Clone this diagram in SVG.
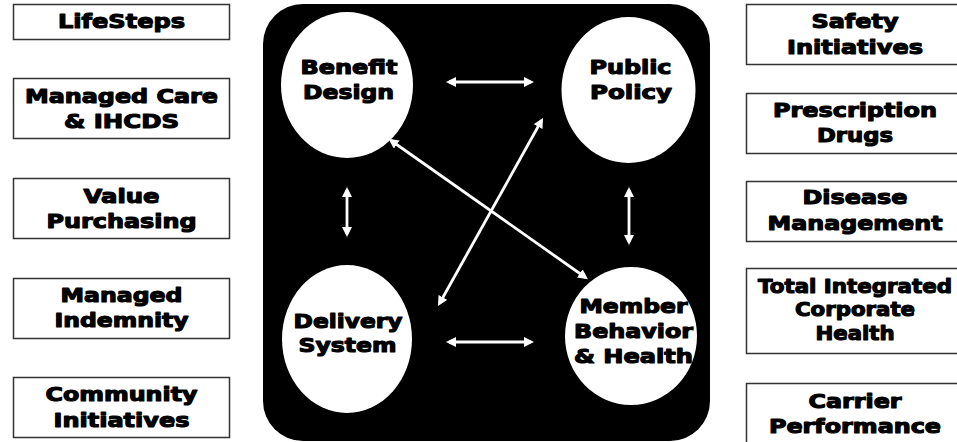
<svg xmlns="http://www.w3.org/2000/svg" width="957" height="442" viewBox="0 0 957 442">
<style>
.box{fill:#fff;stroke:#333;stroke-width:1.5}
.node{fill:#fff}
.t{font-family:"DejaVu Sans","Liberation Sans",Arial,sans-serif;font-weight:bold;font-size:19px;fill:#000;stroke:#000;stroke-width:1.1;stroke-linejoin:round;text-anchor:middle}
.conn{stroke:#fff;stroke-width:2.8;fill:none;marker-start:url(#ah);marker-end:url(#ah)}
</style>
<defs>
<marker id="ah" viewBox="0 0 10 10" refX="7" refY="5" markerWidth="10" markerHeight="10" markerUnits="userSpaceOnUse" orient="auto-start-reverse">
<path d="M0,0 L10,5 L0,10 z" fill="#fff"/>
</marker>
</defs>
<rect width="957" height="442" fill="#fff"/>

<g id="left-boxes">
<g id="lifesteps"><rect class="box" x="13.5" y="4.5" width="216" height="35"/>
<text class="t" x="121.5" y="28" textLength="127" lengthAdjust="spacingAndGlyphs">LifeSteps</text></g>
<g id="managed-care"><rect class="box" x="13.5" y="78.5" width="216" height="60"/>
<text class="t" x="121.5" y="103" textLength="193" lengthAdjust="spacingAndGlyphs">Managed Care</text>
<text class="t" x="121.5" y="128" textLength="115" lengthAdjust="spacingAndGlyphs">&amp; IHCDS</text></g>
<g id="value-purchasing"><rect class="box" x="13.5" y="178.5" width="216" height="60"/>
<text class="t" x="121.5" y="203" textLength="76" lengthAdjust="spacingAndGlyphs">Value</text>
<text class="t" x="121.5" y="228" textLength="150" lengthAdjust="spacingAndGlyphs">Purchasing</text></g>
<g id="managed-indemnity"><rect class="box" x="13.5" y="278.5" width="216" height="60"/>
<text class="t" x="121.5" y="302" textLength="122" lengthAdjust="spacingAndGlyphs">Managed</text>
<text class="t" x="121.5" y="327" textLength="134" lengthAdjust="spacingAndGlyphs">Indemnity</text></g>
<g id="community"><rect class="box" x="13.5" y="377.5" width="216" height="60"/>
<text class="t" x="121.5" y="401" textLength="152" lengthAdjust="spacingAndGlyphs">Community</text>
<text class="t" x="121.5" y="427" textLength="136" lengthAdjust="spacingAndGlyphs">Initiatives</text></g>
</g>

<g id="right-boxes">
<g id="safety"><rect class="box" x="746.5" y="4.5" width="220" height="60"/>
<text class="t" x="855" y="28" textLength="87" lengthAdjust="spacingAndGlyphs">Safety</text>
<text class="t" x="855" y="54" textLength="136" lengthAdjust="spacingAndGlyphs">Initiatives</text></g>
<g id="prescription"><rect class="box" x="746.5" y="93.5" width="220" height="60"/>
<text class="t" x="855" y="117" textLength="164" lengthAdjust="spacingAndGlyphs">Prescription</text>
<text class="t" x="855" y="142" textLength="76" lengthAdjust="spacingAndGlyphs">Drugs</text></g>
<g id="disease"><rect class="box" x="746.5" y="181.5" width="220" height="60"/>
<text class="t" x="855" y="204" textLength="105" lengthAdjust="spacingAndGlyphs">Disease</text>
<text class="t" x="855" y="230" textLength="175" lengthAdjust="spacingAndGlyphs">Management</text></g>
<g id="total-integrated"><rect class="box" x="746.5" y="268.5" width="220" height="85"/>
<text class="t" x="855" y="293" textLength="194" lengthAdjust="spacingAndGlyphs">Total Integrated</text>
<text class="t" x="855" y="316" textLength="120" lengthAdjust="spacingAndGlyphs">Corporate</text>
<text class="t" x="855" y="340" textLength="79" lengthAdjust="spacingAndGlyphs">Health</text></g>
<g id="carrier"><rect class="box" x="746.5" y="383.5" width="220" height="64"/>
<text class="t" x="855" y="408" textLength="93" lengthAdjust="spacingAndGlyphs">Carrier</text>
<text class="t" x="855" y="433" textLength="172" lengthAdjust="spacingAndGlyphs">Performance</text></g>
</g>

<g id="panel"><rect x="263" y="4" width="447" height="437" rx="40" ry="40" fill="#000"/></g>

<g id="benefit-design"><ellipse class="node" cx="347" cy="85" rx="66" ry="73"/>
<text class="t" x="349" y="74" textLength="97" lengthAdjust="spacingAndGlyphs">Benefit</text>
<text class="t" x="348.5" y="99" textLength="91" lengthAdjust="spacingAndGlyphs">Design</text></g>
<g id="public-policy"><ellipse class="node" cx="628.5" cy="90" rx="67" ry="73"/>
<text class="t" x="630.5" y="74" textLength="82" lengthAdjust="spacingAndGlyphs">Public</text>
<text class="t" x="631" y="99" textLength="82" lengthAdjust="spacingAndGlyphs">Policy</text></g>
<g id="delivery-system"><ellipse class="node" cx="347" cy="339" rx="65" ry="74"/>
<text class="t" x="348" y="328" textLength="109" lengthAdjust="spacingAndGlyphs">Delivery</text>
<text class="t" x="347.5" y="352" textLength="98" lengthAdjust="spacingAndGlyphs">System</text></g>
<g id="member-behavior"><ellipse class="node" cx="631" cy="336" rx="66" ry="69"/>
<text class="t" x="633.5" y="313" textLength="108" lengthAdjust="spacingAndGlyphs">Member</text>
<text class="t" x="633.5" y="338" textLength="119" lengthAdjust="spacingAndGlyphs">Behavior</text>
<text class="t" x="633.5" y="363" textLength="119" lengthAdjust="spacingAndGlyphs">&amp; Health</text></g>

<g id="connectors">
<line class="conn" x1="449" y1="82" x2="531" y2="82"/>
<line class="conn" x1="449" y1="342" x2="531" y2="342"/>
<line class="conn" x1="347" y1="190" x2="347" y2="234"/>
<line class="conn" x1="629" y1="190" x2="629" y2="242"/>
<line class="conn" x1="391" y1="140.5" x2="585.5" y2="277.5"/>
<line class="conn" x1="541.5" y1="120.5" x2="439.5" y2="303.5"/>
</g>
</svg>
